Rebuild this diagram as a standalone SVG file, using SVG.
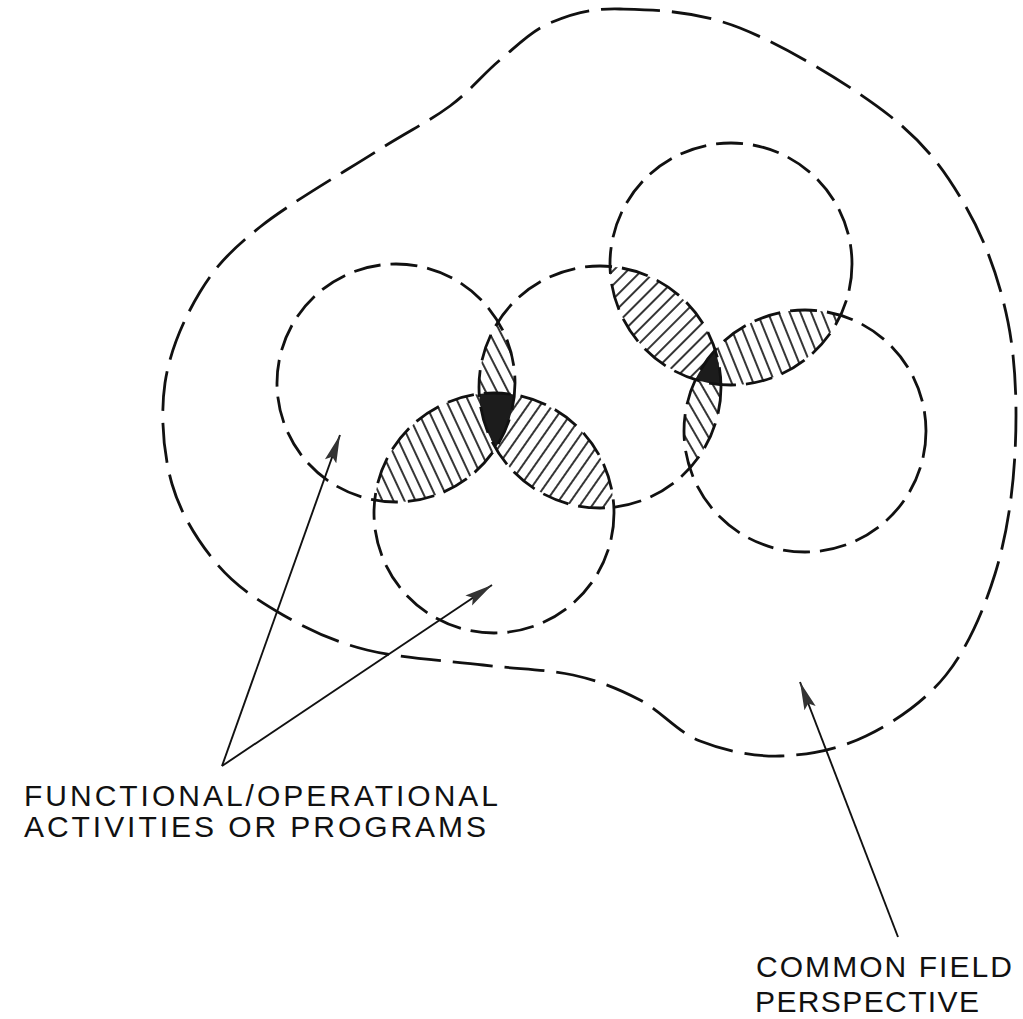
<svg xmlns="http://www.w3.org/2000/svg" width="1023" height="1019" viewBox="0 0 1023 1019">
<style>
.dash{fill:none;stroke:#111;stroke-width:2.8;stroke-dasharray:27 10}
.outer{fill:none;stroke:#111;stroke-width:2.8;stroke-dasharray:40 12}
.arrow{stroke:#111;stroke-width:1.9;fill:none}
.lbl{font-family:"Liberation Sans",Arial,sans-serif;font-size:30px;fill:#111}
.dark{fill:#1c1c1c}
</style>
<defs>
<clipPath id="cA"><circle cx="396" cy="383" r="119"/></clipPath>
<clipPath id="cB"><circle cx="600" cy="387" r="121"/></clipPath>
<clipPath id="cC"><circle cx="494" cy="513" r="120"/></clipPath>
<clipPath id="cD"><circle cx="731" cy="264" r="121"/></clipPath>
<clipPath id="cE"><circle cx="805" cy="431" r="121"/></clipPath>
<pattern id="hAC" width="10" height="10" patternUnits="userSpaceOnUse" patternTransform="rotate(-25)"><line x1="5" y1="-1" x2="5" y2="11" stroke="#111" stroke-width="1.7"/></pattern>
<pattern id="hAB" width="10" height="10" patternUnits="userSpaceOnUse" patternTransform="rotate(-27)"><line x1="5" y1="-1" x2="5" y2="11" stroke="#111" stroke-width="1.7"/></pattern>
<pattern id="hBC" width="10" height="10" patternUnits="userSpaceOnUse" patternTransform="rotate(35)"><line x1="5" y1="-1" x2="5" y2="11" stroke="#111" stroke-width="1.7"/></pattern>
<pattern id="hBD" width="10" height="10" patternUnits="userSpaceOnUse" patternTransform="rotate(45)"><line x1="5" y1="-1" x2="5" y2="11" stroke="#111" stroke-width="1.7"/></pattern>
<pattern id="hDE" width="10" height="10" patternUnits="userSpaceOnUse" patternTransform="rotate(-22)"><line x1="5" y1="-1" x2="5" y2="11" stroke="#111" stroke-width="1.7"/></pattern>
<pattern id="hBE" width="10" height="10" patternUnits="userSpaceOnUse" patternTransform="rotate(-30)"><line x1="5" y1="-1" x2="5" y2="11" stroke="#111" stroke-width="1.7"/></pattern>
<marker id="head" markerUnits="userSpaceOnUse" markerWidth="30" markerHeight="14" refX="28" refY="7" orient="auto"><path d="M28,7 L0,1 L5,7 L0,13 Z" fill="#333"/></marker>
</defs>
<rect width="1023" height="1019" fill="#fff"/>
<g id="overlaps">
<g clip-path="url(#cA)"><circle cx="494" cy="513" r="120" fill="url(#hAC)"/></g>
<g clip-path="url(#cA)"><circle cx="600" cy="387" r="121" fill="url(#hAB)"/></g>
<g clip-path="url(#cB)"><circle cx="494" cy="513" r="120" fill="url(#hBC)"/></g>
<g clip-path="url(#cB)"><circle cx="731" cy="264" r="121" fill="url(#hBD)"/></g>
<g clip-path="url(#cD)"><circle cx="805" cy="431" r="121" fill="url(#hDE)"/></g>
<g clip-path="url(#cB)"><circle cx="805" cy="431" r="121" fill="url(#hBE)"/></g>
<g clip-path="url(#cA)"><g clip-path="url(#cB)"><circle class="dark" cx="494" cy="513" r="120"/></g></g>
<g clip-path="url(#cD)"><g clip-path="url(#cE)"><circle class="dark" cx="600" cy="387" r="121"/></g></g>
</g>
<g id="field"><path class="outer" d="M620,9 C651.7,9.8 695,10.2 740,28 C785,45.8 852.3,86.2 890,116 C927.7,145.8 946.3,172.7 966,207 C985.7,241.3 999.8,281 1008,322 C1016.2,363 1017.2,411 1015,453 C1012.8,495 1006.5,537 995,574 C983.5,611 967.5,648 946,675 C924.5,702 893.7,722.5 866,736 C838.3,749.5 807.7,755.2 780,756 C752.3,756.8 723.3,750.3 700,741 C676.7,731.7 661.2,711 640,700 C618.8,689 599.2,680.8 573,675 C546.8,669.2 517.3,669.2 483,665 C448.7,660.8 400.3,658.3 367,650 C333.7,641.7 308,629.3 283,615 C258,600.7 235.5,585.8 217,564 C198.5,542.2 180.7,514.2 172,484 C163.3,453.8 160.3,415 165,383 C169.7,351 184.2,318 200,292 C215.8,266 230.5,250.5 260,227 C289.5,203.5 345.3,171.2 377,151 C408.7,130.8 429.5,121.2 450,106 C470.5,90.8 483.3,73.8 500,60 C516.7,46.2 530,31.5 550,23 C570,14.5 588.3,8.2 620,9 Z"/></g>
<g id="circle-a"><circle class="dash" cx="396" cy="383" r="119"/></g>
<g id="circle-b"><circle class="dash" cx="600" cy="387" r="121"/></g>
<g id="circle-c"><circle class="dash" cx="494" cy="513" r="120"/></g>
<g id="circle-d"><circle class="dash" cx="731" cy="264" r="121"/></g>
<g id="circle-e"><circle class="dash" cx="805" cy="431" r="121"/></g>
<g id="connectors">
<line class="arrow" x1="222" y1="766" x2="340" y2="435" marker-end="url(#head)"/>
<line class="arrow" x1="222" y1="766" x2="492" y2="585" marker-end="url(#head)"/>
<line class="arrow" x1="898" y1="937" x2="800" y2="682" marker-end="url(#head)"/>
</g>
<g id="label-programs">
<text class="lbl" x="24" y="806" textLength="474" lengthAdjust="spacing">FUNCTIONAL/OPERATIONAL</text>
<text class="lbl" x="24" y="837" textLength="462" lengthAdjust="spacing">ACTIVITIES OR PROGRAMS</text>
</g>
<g id="label-field">
<text class="lbl" x="756" y="977" textLength="256" lengthAdjust="spacing">COMMON FIELD</text>
<text class="lbl" x="755" y="1012" textLength="224" lengthAdjust="spacing">PERSPECTIVE</text>
</g>
</svg>
